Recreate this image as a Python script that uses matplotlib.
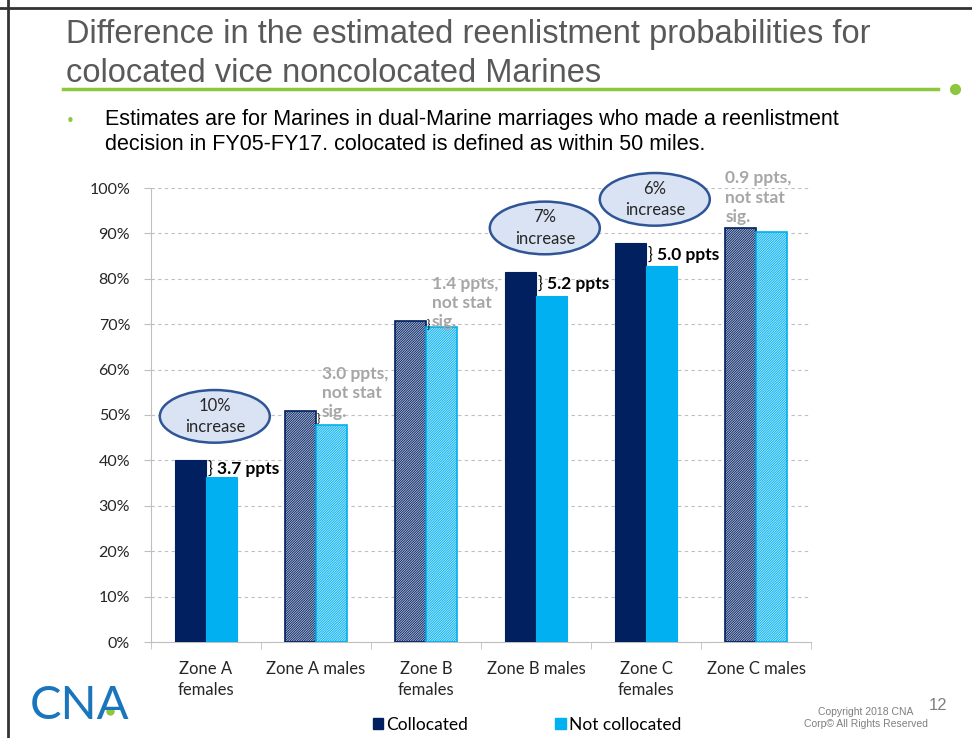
import numpy as np
import matplotlib
matplotlib.use("Agg")
import matplotlib.pyplot as plt
from matplotlib.patches import Ellipse, Patch
from matplotlib.lines import Line2D

# data (percent)
categories = ["Zone A\nfemales", "Zone A males", "Zone B\nfemales",
              "Zone B males", "Zone C\nfemales", "Zone C males"]
collocated = [40.0, 50.8, 70.7, 81.5, 87.8, 91.1]
not_collocated = [36.3, 47.8, 69.3, 76.3, 82.8, 90.2]
diff_labels = ["3.7 ppts", "3.0 ppts,", "1.4 ppts,", "5.2 ppts", "5.0 ppts", "0.9 ppts,"]
significant = [True, False, False, True, True, False]
increase_labels = ["10%", None, None, "7%", "6%", None]
yticks = np.arange(0, 101, 10)

W, H = 972, 738
NAVY = "#002060"
CYAN = "#00b0f0"
GREEN = "#8dc63f"
GRAY = "#a6a6a6"
chart_font = "Lato"
slide_font = ["Liberation Sans", "DejaVu Sans"]

plt.rcParams["hatch.linewidth"] = 0.6

fig = plt.figure(figsize=(W / 100, H / 100), dpi=100)

def fx(px):
    return px / W

def fy(py):
    return 1 - py / H

# slide frame
fig.add_artist(Line2D([0, 1], [fy(8), fy(8)], color="#333333", lw=2))
fig.add_artist(Line2D([fx(8), fx(8)], [0, 1], color="#333333", lw=2))

# title + rule
fig.text(fx(66), fy(35), "Difference in the estimated reenlistment probabilities for",
         fontsize=23.5, color="#595959", family=slide_font, va="center", ha="left")
fig.text(fx(66), fy(73), "colocated vice noncolocated Marines",
         fontsize=23.5, color="#595959", family=slide_font, va="center", ha="left")
fig.add_artist(Line2D([fx(63), fx(938)], [fy(89), fy(89)], color=GREEN, lw=2.5))
fig.add_artist(Line2D([fx(955)], [fy(89)], marker="o", markersize=7, color=GREEN))

# bullet
fig.text(fx(66), fy(121), "•", fontsize=11, color=GREEN, va="center")
fig.text(fx(105), fy(120), "Estimates are for Marines in dual-Marine marriages who made a reenlistment",
         fontsize=15.5, family=slide_font, va="center")
fig.text(fx(105), fy(145), "decision in FY05-FY17. colocated is defined as within 50 miles.",
         fontsize=15.5, family=slide_font, va="center")

# chart
ax = fig.add_axes([fx(151), fy(642), fx(811) - fx(151), (642 - 188) / H])
x = np.arange(len(categories))
w = 0.28

for i in x:
    if significant[i]:
        ax.bar(i - w / 2, collocated[i], w, color=NAVY, edgecolor=NAVY, lw=0.8, zorder=3)
        ax.bar(i + w / 2, not_collocated[i], w, color=CYAN, edgecolor=CYAN, lw=0.8, zorder=3)
    else:
        ax.bar(i - w / 2, collocated[i], w, color="#b8c0d6", edgecolor=NAVY,
               hatch="/" * 14, lw=1.2, zorder=3)
        ax.bar(i + w / 2, not_collocated[i], w, color="#b3e8fb", edgecolor=CYAN,
               hatch="/" * 14, lw=1.2, zorder=3)

ax.set_xlim(-0.5, len(categories) - 0.5)
ax.set_ylim(0, 100)
ax.set_yticks(yticks)
ax.set_yticklabels([f"{v}%" for v in yticks], fontsize=11.5, family=chart_font, color="#262626")
ax.set_xticks(x)
ax.set_xticklabels(categories, fontsize=12, family=chart_font, color="#262626", linespacing=1.35)
ax.set_xticks(np.arange(-0.5, len(categories)), minor=True)
ax.tick_params(axis="x", which="major", length=0, pad=14)
ax.tick_params(axis="x", which="minor", length=5, color="#bfbfbf")
ax.tick_params(axis="y", length=5, color="#bfbfbf", pad=10)
ax.grid(axis="y", color="#bfbfbf", ls=(0, (3, 3)), lw=0.8, zorder=0)
for s in ["top", "right"]:
    ax.spines[s].set_visible(False)
for s in ["left", "bottom"]:
    ax.spines[s].set_color("#bfbfbf")

# annotations
for i in x:
    c, n = collocated[i], not_collocated[i]
    mid = (c + n) / 2
    if significant[i]:
        ax.text(i + 0.01, mid, "}", fontsize=12, family=chart_font, va="center", ha="left")
        ax.text(i + 0.1, mid, diff_labels[i], fontsize=12.5, family=chart_font,
                fontweight="bold", va="center", ha="left")
    else:
        note = diff_labels[i] + "\nnot stat\nsig."
        if i == len(categories) - 1:
            ax.text(i - w, c + 0.8, note, fontsize=12.5, family=chart_font, fontweight="bold",
                    color=GRAY, va="bottom", ha="left", linespacing=1.25, clip_on=False)
        else:
            ax.text(i + 0.01, mid, "}", fontsize=8, family=chart_font, va="center", ha="left")
            ax.text(i + 0.05, c - 2.0, note, fontsize=12.5, family=chart_font, fontweight="bold",
                    color=GRAY, va="bottom", ha="left", linespacing=1.25)
    if increase_labels[i]:
        ex, ey = i + 0.08, c + 9.7
        ax.add_patch(Ellipse((ex, ey), 1.0, 11.6, facecolor="#dae3f3", edgecolor="#2f5597",
                             lw=1.8, zorder=5, clip_on=False))
        ax.text(ex, ey, increase_labels[i] + "\nincrease", fontsize=12, family=chart_font,
                ha="center", va="center", linespacing=1.4, color="#262626", zorder=6)

# legend
handles = [Patch(color=NAVY, label="Collocated"), Patch(color=CYAN, label="Not collocated")]
fig.legend(handles=handles, loc="center", bbox_to_anchor=(fx(527), fy(725)), ncol=2,
           frameon=False, handlelength=0.6, handleheight=0.6, handletextpad=0.2,
           columnspacing=5.0, prop={"family": chart_font, "size": 12.5})

# footer
fig.text(fx(30), fy(706), "CNA", fontsize=34, color="#1a75bc", family=["Lato", "DejaVu Sans"],
         va="center", ha="left")
fig.add_artist(Line2D([fx(110)], [fy(711)], marker="o", markersize=5, color=GREEN))
fig.text(fx(866), fy(712), "Copyright 2018 CNA", fontsize=7.5, color="#7f7f7f",
         family=slide_font, ha="center", va="center")
fig.text(fx(866), fy(724), "Corp© All Rights Reserved", fontsize=7.5, color="#7f7f7f",
         family=slide_font, ha="center", va="center")
fig.text(fx(938), fy(705), "12", fontsize=12, color="#7f7f7f",
         family=slide_font, ha="center", va="center")

fig.savefig("out.png", dpi=100)
